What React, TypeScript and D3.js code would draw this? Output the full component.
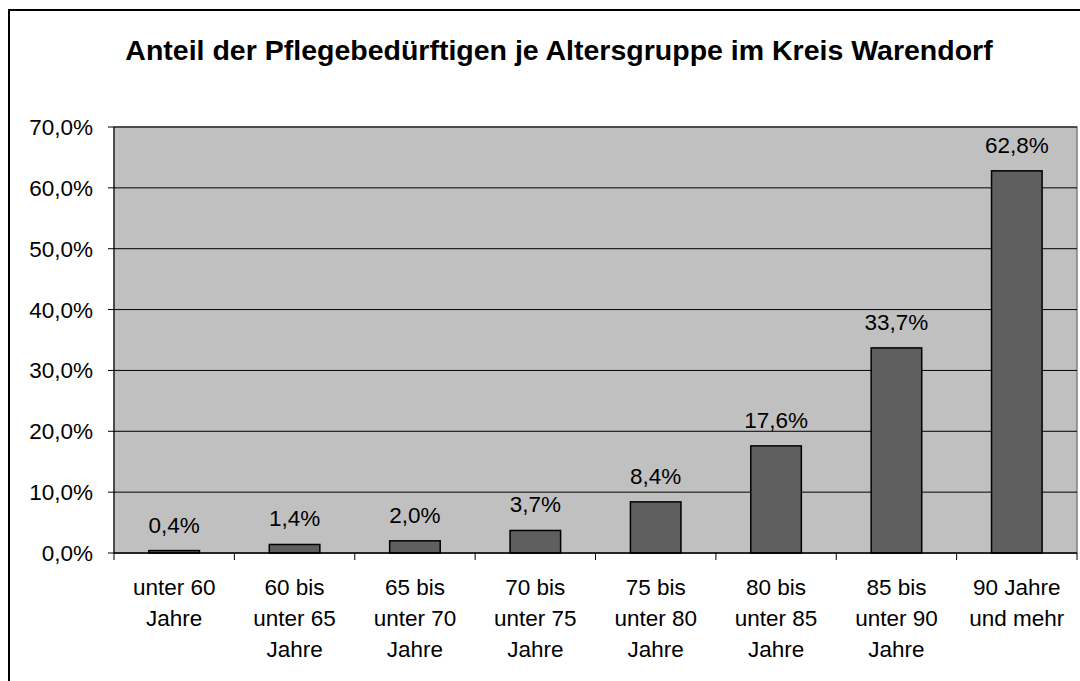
import React from 'react';
import * as d3 from 'd3';

// chart data
const categories = [
  ['unter 60', 'Jahre'],
  ['60 bis', 'unter 65', 'Jahre'],
  ['65 bis', 'unter 70', 'Jahre'],
  ['70 bis', 'unter 75', 'Jahre'],
  ['75 bis', 'unter 80', 'Jahre'],
  ['80 bis', 'unter 85', 'Jahre'],
  ['85 bis', 'unter 90', 'Jahre'],
  ['90 Jahre', 'und mehr'],
];
const values = [0.4, 1.4, 2.0, 3.7, 8.4, 17.6, 33.7, 62.8];
const yTicks = [0, 10, 20, 30, 40, 50, 60, 70];
const title = 'Anteil der Pflegebedürftigen je Altersgruppe im Kreis Warendorf';

const W = 1080;
const H = 681;
const plot = { left: 114, top: 127, right: 1077, bottom: 553 };
const font = '"Liberation Sans", Arial, sans-serif';

const fmt = (v: number) => v.toFixed(1).replace('.', ',') + '%';

const App = () => {
  const keys = categories.map((_, i) => String(i));

  // --- Scales ---
  const x = d3.scaleBand<string>()
    .domain(keys)
    .range([plot.left, plot.right])
    .paddingInner(0.58)
    .paddingOuter(0.29);
  const xCat = d3.scaleBand<string>().domain(keys).range([plot.left, plot.right]);
  const y = d3.scaleLinear().domain([0, 70]).range([plot.bottom, plot.top]);

  return (
    <svg width={W} height={H} style={{ position: 'absolute', left: 0, top: 0, background: '#fff' }}>
      {/* outer chart border */}
      <rect x={9} y={10} width={1100} height={720} fill="#fff" stroke="#000" strokeWidth={2} />

      <text x={559} y={60} textAnchor="middle" fontFamily={font} fontWeight="bold" fontSize={28.5}>
        {title}
      </text>

      {/* plot area */}
      <rect x={plot.left} y={plot.top} width={plot.right - plot.left} height={plot.bottom - plot.top}
        fill="#c0c0c0" stroke="#808080" strokeWidth={1.5} />

      {/* gridlines */}
      {yTicks.slice(1).map(t => (
        <line key={t} x1={plot.left} x2={plot.right} y1={y(t)} y2={y(t)} stroke="#000" strokeWidth={1} />
      ))}

      {/* y axis */}
      <line x1={plot.left} x2={plot.left} y1={plot.top} y2={plot.bottom} stroke="#000" strokeWidth={1} />
      {yTicks.map(t => (
        <g key={t}>
          <line x1={plot.left - 6} x2={plot.left} y1={y(t)} y2={y(t)} stroke="#000" />
          <text x={93} y={y(t) + 8} textAnchor="end" fontFamily={font} fontSize={22.5}>{fmt(t)}</text>
        </g>
      ))}

      {/* bars */}
      {values.map((v, i) => (
        <g key={i}>
          <rect x={x(String(i))} y={y(v)} width={x.bandwidth()} height={plot.bottom - y(v)}
            fill="#5f5f5f" stroke="#000" strokeWidth={1.5} />
          <text x={(x(String(i)) as number) + x.bandwidth() / 2} y={y(v) - 18} textAnchor="middle"
            fontFamily={font} fontSize={22.5}>{fmt(v)}</text>
        </g>
      ))}

      {/* x axis */}
      <line x1={plot.left} x2={plot.right} y1={plot.bottom} y2={plot.bottom} stroke="#000" strokeWidth={1.5} />
      {keys.concat(['end']).map((k, i) => {
        const xx = k === 'end' ? plot.right : (xCat(k) as number);
        return <line key={i} x1={xx} x2={xx} y1={plot.bottom} y2={plot.bottom + 7} stroke="#000" />;
      })}
      {categories.map((lines, i) => (
        <text key={i} textAnchor="middle" fontFamily={font} fontSize={22.5}>
          {lines.map((l, j) => (
            <tspan key={j} x={(xCat(String(i)) as number) + xCat.bandwidth() / 2} y={595 + j * 31}>{l}</tspan>
          ))}
        </text>
      ))}
    </svg>
  );
};

export default App;
